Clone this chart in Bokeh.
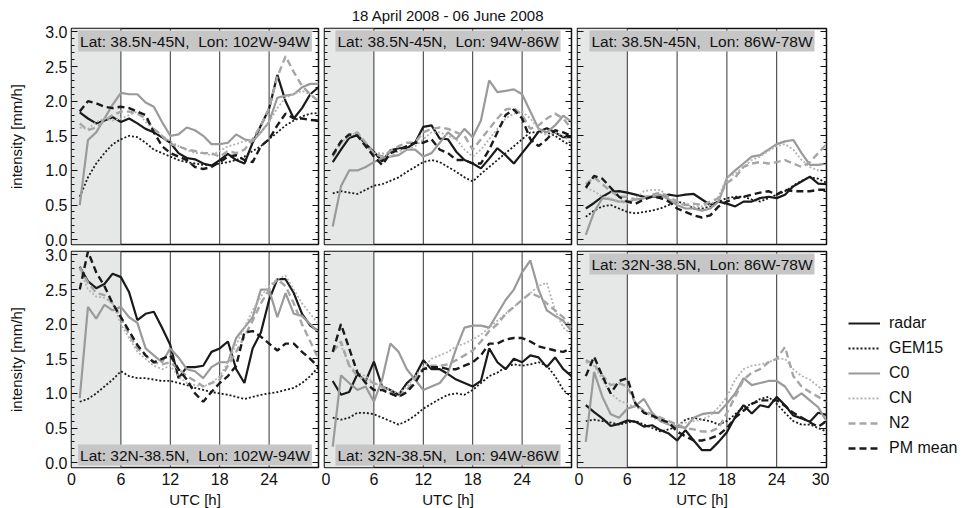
import numpy as np
from bokeh.plotting import figure
from bokeh.models import (Range1d, Span, BoxAnnotation, Label, Legend, LegendItem,
                          LinearAxis, SingleIntervalTicker, FixedTicker, NumeralTickFormatter)
from bokeh.layouts import row, column
from bokeh.embed import file_html
from bokeh.resources import INLINE

# ---------------- data ----------------
hours = list(range(1, 31))
x_ticks = [0, 6, 12, 18, 24, 30]
title_text = "18 April 2008 - 06 June 2008"
series_names = ["radar", "GEM15", "C0", "CN", "N2", "PM mean"]

S2 = ",\u00a0 Lon: "
region_nw = "Lat: 38.5N-45N" + S2 + "102W-94W"
region_nc = "Lat: 38.5N-45N" + S2 + "94W-86W"
region_ne = "Lat: 38.5N-45N" + S2 + "86W-78W"
region_sw = "Lat: 32N-38.5N" + S2 + "102W-94W"
region_sc = "Lat: 32N-38.5N" + S2 + "94W-86W"
region_se = "Lat: 32N-38.5N" + S2 + "86W-78W"

# north / west
radar_nw = [1.84,1.75,1.68,1.72,1.77,1.70,1.75,1.68,1.60,1.55,1.48,1.40,1.25,1.18,1.16,1.10,1.07,1.15,1.24,1.15,1.10,1.40,1.65,1.89,2.38,2.00,1.75,1.90,2.10,2.20]
gem_nw   = [0.62,0.90,1.10,1.25,1.38,1.45,1.50,1.48,1.40,1.30,1.25,1.20,1.15,1.12,1.10,1.08,1.08,1.10,1.12,1.15,1.20,1.28,1.35,1.45,1.55,1.65,1.72,1.78,1.82,1.83]
c0_nw    = [0.50,1.44,1.55,1.75,1.95,2.12,2.10,2.10,1.98,1.92,1.70,1.50,1.52,1.62,1.58,1.50,1.38,1.38,1.40,1.52,1.45,1.42,1.55,1.70,2.05,2.08,2.10,2.20,2.25,2.25]
cn_nw    = [1.62,1.60,1.70,1.75,1.72,1.75,1.80,1.85,1.70,1.60,1.50,1.42,1.35,1.30,1.25,1.25,1.22,1.28,1.35,1.38,1.42,1.45,1.55,1.70,1.90,2.05,2.10,2.15,2.10,2.00]
n2_nw    = [1.68,1.58,1.62,1.72,1.80,1.85,1.85,1.82,1.75,1.60,1.50,1.38,1.35,1.30,1.28,1.25,1.25,1.20,1.28,1.25,1.30,1.45,1.65,1.90,2.35,2.65,2.42,2.22,2.10,2.00]
pm_nw    = [1.85,2.00,1.97,1.92,1.90,1.92,1.90,1.85,1.80,1.55,1.35,1.25,1.20,1.15,1.05,1.02,1.05,1.12,1.20,1.22,1.15,1.12,1.35,1.45,1.65,1.82,1.75,1.75,1.73,1.72]

# north / central
radar_nc = [1.12,1.30,1.47,1.51,1.38,1.27,1.13,1.29,1.32,1.32,1.40,1.63,1.65,1.46,1.45,1.27,1.15,1.10,1.03,1.17,1.32,1.22,1.10,1.25,1.40,1.56,1.61,1.55,1.48,1.48]
gem_nc   = [0.67,0.70,0.68,0.66,0.72,0.78,0.80,0.85,0.90,0.98,1.05,1.12,1.15,1.12,1.05,0.98,0.90,0.84,0.95,1.05,1.15,1.25,1.35,1.45,1.55,1.55,1.55,1.50,1.42,1.35]
c0_nc    = [0.19,0.77,1.00,1.00,1.05,1.12,1.18,1.20,1.22,1.30,1.30,1.20,1.25,1.40,1.55,1.45,1.60,1.48,1.72,2.30,2.13,2.15,2.17,2.10,1.85,1.60,1.55,1.65,1.79,1.70]
cn_nc    = [1.25,1.40,1.50,1.55,1.35,1.25,1.25,1.20,1.28,1.30,1.35,1.45,1.55,1.55,1.50,1.45,1.30,1.20,1.30,1.45,1.60,1.75,1.82,1.85,1.75,1.60,1.50,1.55,1.50,1.40]
n2_nc    = [1.20,1.40,1.50,1.55,1.40,1.25,1.20,1.28,1.35,1.40,1.40,1.55,1.60,1.62,1.60,1.55,1.50,1.30,1.45,1.60,1.75,1.88,1.90,1.80,1.60,1.65,1.75,1.82,1.75,1.60]
pm_nc    = [1.22,1.42,1.52,1.50,1.35,1.20,1.08,1.25,1.30,1.35,1.40,1.40,1.45,1.30,1.25,1.15,1.15,1.10,1.10,1.30,1.55,1.80,1.88,1.75,1.45,1.35,1.45,1.58,1.55,1.50]

# north / east
radar_ne = [0.45,0.53,0.62,0.69,0.70,0.68,0.65,0.62,0.62,0.62,0.65,0.63,0.65,0.66,0.58,0.50,0.55,0.52,0.48,0.55,0.55,0.60,0.62,0.60,0.65,0.77,0.84,0.91,0.81,0.80]
gem_ne   = [0.33,0.42,0.48,0.50,0.45,0.40,0.38,0.40,0.42,0.45,0.50,0.55,0.52,0.45,0.45,0.48,0.55,0.60,0.62,0.62,0.58,0.55,0.60,0.65,0.70,0.78,0.85,0.90,0.88,0.82]
c0_ne    = [0.07,0.40,0.60,0.58,0.55,0.55,0.58,0.60,0.62,0.65,0.58,0.50,0.45,0.45,0.42,0.45,0.55,0.89,1.00,1.10,1.20,1.22,1.30,1.38,1.42,1.44,1.25,1.08,1.08,1.10]
cn_ne    = [0.75,0.70,0.62,0.60,0.55,0.52,0.60,0.70,0.72,0.72,0.60,0.52,0.50,0.48,0.48,0.50,0.62,0.90,0.95,1.05,1.15,1.20,1.28,1.35,1.38,1.30,1.15,1.05,1.00,1.00]
n2_ne    = [0.80,0.90,0.80,0.70,0.62,0.62,0.58,0.60,0.65,0.68,0.62,0.55,0.50,0.52,0.50,0.55,0.60,0.82,0.90,1.05,1.10,1.12,1.10,1.12,1.15,1.10,1.05,1.12,1.25,1.38]
pm_ne    = [0.75,0.92,0.88,0.75,0.62,0.55,0.52,0.58,0.62,0.60,0.55,0.45,0.40,0.35,0.32,0.35,0.48,0.55,0.60,0.62,0.65,0.68,0.70,0.65,0.72,0.70,0.70,0.70,0.72,0.72]

# south / west
radar_sw = [2.83,2.62,2.52,2.58,2.73,2.68,2.46,2.06,2.15,2.18,1.95,1.70,1.22,1.38,1.38,1.40,1.60,1.65,1.75,1.35,1.15,1.65,1.88,2.35,2.65,2.65,2.45,2.15,1.98,1.90]
gem_sw   = [0.88,0.92,1.00,1.10,1.20,1.32,1.25,1.22,1.22,1.20,1.18,1.18,1.15,1.12,1.08,1.05,1.02,1.00,0.98,0.95,0.92,0.95,0.98,1.00,1.02,1.05,1.08,1.15,1.25,1.38]
c0_sw    = [0.93,2.25,2.08,2.28,2.20,2.25,2.10,2.02,1.65,1.55,1.45,1.65,1.52,1.35,1.32,1.22,1.38,1.45,1.45,1.80,1.95,2.10,2.50,2.50,2.10,2.45,2.15,2.12,2.00,1.88]
cn_sw    = [2.80,2.50,2.40,2.38,2.30,2.00,1.80,1.60,1.50,1.40,1.35,1.40,1.25,1.15,1.12,1.10,1.15,1.25,1.45,1.70,1.95,2.20,2.40,2.55,2.65,2.70,2.50,2.30,2.15,2.00]
n2_sw    = [2.82,2.60,2.45,2.42,2.30,2.10,1.85,1.65,1.55,1.45,1.42,1.45,1.35,1.25,1.18,1.10,1.15,1.20,1.40,1.60,1.82,2.05,2.30,2.50,2.65,2.55,2.30,2.00,1.75,1.50]
pm_sw    = [2.50,3.05,2.75,2.55,2.30,2.10,1.90,1.70,1.55,1.45,1.50,1.55,1.35,1.20,1.00,0.88,1.02,1.15,1.25,1.40,1.88,1.90,1.82,1.72,1.62,1.72,1.72,1.60,1.50,1.38]

# south / central
radar_sc = [1.18,0.98,1.02,1.28,1.18,1.46,1.10,1.05,0.98,1.15,1.25,1.48,1.35,1.35,1.28,1.20,1.15,1.10,1.18,1.65,1.45,1.35,1.50,1.45,1.55,1.52,1.38,1.52,1.35,1.25]
gem_sc   = [0.65,0.62,0.65,0.72,0.72,0.70,0.65,0.60,0.55,0.60,0.68,0.78,0.85,0.92,0.98,1.00,0.98,1.05,1.15,1.25,1.30,1.38,1.42,1.40,1.42,1.45,1.40,1.25,1.05,0.95]
c0_sc    = [0.23,1.26,1.15,1.05,1.10,0.88,1.20,1.72,1.60,1.35,1.20,1.05,1.10,1.15,1.30,1.65,1.95,1.98,1.98,1.95,2.15,2.35,2.50,2.75,2.92,2.50,2.20,2.12,2.05,1.90]
cn_sc    = [1.65,1.70,1.40,1.30,1.25,1.15,1.10,1.05,1.00,1.10,1.25,1.38,1.50,1.55,1.60,1.68,1.72,1.78,1.85,1.95,2.05,2.15,2.25,2.35,2.45,2.55,2.60,2.20,1.95,1.85]
n2_sc    = [1.60,1.75,1.40,1.25,1.20,1.15,1.10,1.00,0.95,1.05,1.20,1.35,1.40,1.40,1.42,1.48,1.55,1.62,1.75,1.90,2.00,2.15,2.25,2.35,2.45,2.40,2.30,2.20,2.10,1.95]
pm_sc    = [1.60,2.00,1.65,1.30,1.15,1.05,1.05,1.00,0.95,1.02,1.15,1.35,1.38,1.38,1.35,1.35,1.40,1.45,1.55,1.72,1.72,1.78,1.80,1.80,1.75,1.68,1.65,1.62,1.60,1.65]

# south / east
radar_se = [0.83,0.73,0.64,0.53,0.56,0.61,0.59,0.52,0.54,0.47,0.42,0.32,0.47,0.32,0.18,0.18,0.30,0.44,0.66,0.83,0.71,0.83,0.80,0.95,0.83,0.68,0.64,0.59,0.72,0.69]
gem_se   = [0.60,0.62,0.60,0.58,0.55,0.58,0.60,0.55,0.50,0.45,0.48,0.52,0.62,0.65,0.62,0.60,0.55,0.60,0.70,0.80,0.85,0.92,0.95,0.85,0.72,0.60,0.55,0.55,0.50,0.45]
c0_se    = [0.30,1.31,0.95,0.70,0.65,0.78,0.82,0.92,0.72,0.60,0.55,0.52,0.50,0.65,0.70,0.72,0.72,0.85,1.00,1.22,1.12,1.15,1.18,1.18,1.10,0.92,1.00,0.90,0.80,0.60]
cn_se    = [1.45,1.40,1.20,1.00,0.90,0.85,0.80,0.75,0.65,0.60,0.55,0.55,0.58,0.60,0.62,0.68,0.80,0.95,1.20,1.35,1.40,1.42,1.45,1.50,1.50,1.35,1.25,1.20,1.10,1.00]
n2_se    = [1.48,1.42,1.26,1.12,1.15,1.10,0.85,0.75,0.70,0.65,0.60,0.55,0.50,0.48,0.45,0.45,0.50,0.72,0.95,1.20,1.30,1.35,1.45,1.50,1.67,1.25,1.10,1.02,0.95,0.88]
pm_se    = [1.25,1.53,1.25,1.00,1.18,1.22,0.85,0.72,0.68,0.62,0.58,0.45,0.38,0.32,0.32,0.35,0.40,0.50,0.65,0.75,0.85,0.90,0.90,0.90,0.82,0.72,0.65,0.58,0.52,0.60]

# ---------------- styling ----------------
FONT = "Liberation Sans"
INK = "#111111"
styles = {
    "radar":   dict(line_color="#1a1a1a", line_width=2.2, line_dash="solid"),
    "GEM15":   dict(line_color="#1a1a1a", line_width=1.8, line_dash="2 2"),
    "C0":      dict(line_color="#9a9a9a", line_width=2.2, line_dash="solid"),
    "CN":      dict(line_color="#b4b4b4", line_width=1.8, line_dash="2 2"),
    "N2":      dict(line_color="#a6a6a6", line_width=2.4, line_dash="7 4"),
    "PM mean": dict(line_color="#1a1a1a", line_width=2.4, line_dash="7 4"),
}

panels = [
    (0, 0, [radar_nw, gem_nw, c0_nw, cn_nw, n2_nw, pm_nw], region_nw, "top"),
    (0, 1, [radar_nc, gem_nc, c0_nc, cn_nc, n2_nc, pm_nc], region_nc, "top"),
    (0, 2, [radar_ne, gem_ne, c0_ne, cn_ne, n2_ne, pm_ne], region_ne, "top"),
    (1, 0, [radar_sw, gem_sw, c0_sw, cn_sw, n2_sw, pm_sw], region_sw, "bottom"),
    (1, 1, [radar_sc, gem_sc, c0_sc, cn_sc, n2_sc, pm_sc], region_sc, "bottom"),
    (1, 2, [radar_se, gem_se, c0_se, cn_se, n2_se, pm_se], region_se, "top"),
]

FH = 216
TOP_B, MID_B1, MID_B2, BOT_B = 27, 3, 4, 42
figs = {}
for (ri, ci, data, region, boxpos) in panels:
    fw = 247 if ci < 2 else 249
    p = figure(frame_width=fw, frame_height=FH,
               min_border_left=71 if ci == 0 else 3,
               min_border_right=3,
               min_border_top=TOP_B if ri == 0 else MID_B2,
               min_border_bottom=MID_B1 if ri == 0 else BOT_B,
               x_range=Range1d(0, 30), y_range=Range1d(-0.07, 3.05),
               x_axis_location=None if ri == 0 else "below",
               output_backend="svg", toolbar_location=None)
    p.grid.visible = False
    p.outline_line_color = INK
    p.outline_line_width = 1.5
    p.background_fill_color = "white"
    p.border_fill_color = "white"

    yax = p.yaxis[0]
    yax.ticker = SingleIntervalTicker(interval=0.5, num_minor_ticks=5)
    yax.formatter = NumeralTickFormatter(format="0.0")
    yax.major_tick_in = 6
    yax.major_tick_out = 0
    yax.minor_tick_in = 3
    yax.minor_tick_out = 0
    yax.axis_line_color = None
    yax.major_tick_line_color = INK
    yax.minor_tick_line_color = INK
    if ci == 0:
        yax.axis_label = "intensity [mm/h]"
        yax.axis_label_text_font = FONT
        yax.axis_label_text_font_size = "15px"
        yax.axis_label_text_font_style = "normal"
        yax.axis_label_text_color = INK
        yax.axis_label_standoff = 17
        yax.major_label_text_font = FONT
        yax.major_label_text_font_size = "16px"
        yax.major_label_standoff = 4
        yax.major_label_text_color = INK
    else:
        yax.major_label_text_font_size = "0px"
        yax.major_label_standoff = 0
    rax = LinearAxis(ticker=SingleIntervalTicker(interval=0.5, num_minor_ticks=5),
                     major_tick_in=6, major_tick_out=0, minor_tick_in=3, minor_tick_out=0,
                     axis_line_color=None, major_label_text_font_size="0px",
                     major_label_standoff=0,
                     major_tick_line_color=INK, minor_tick_line_color=INK)
    p.add_layout(rax, "right")

    if ri == 1:
        xax = p.xaxis[0]
        xax.ticker = FixedTicker(ticks=x_ticks if ci == 2 else x_ticks[:-1])
        xax.major_tick_in = 0
        xax.major_tick_out = 0
        xax.minor_tick_line_color = None
        xax.axis_line_color = None
        xax.major_label_text_font = FONT
        xax.major_label_text_font_size = "16px"
        xax.major_label_standoff = 5
        xax.major_label_text_color = INK
        xax.axis_label = "UTC [h]"
        xax.axis_label_text_font = FONT
        xax.axis_label_text_font_size = "15px"
        xax.axis_label_text_font_style = "normal"
        xax.axis_label_text_color = INK
        xax.axis_label_standoff = 3

    p.add_layout(BoxAnnotation(left=0, right=6, fill_color="#e6e7e7", fill_alpha=1.0,
                               line_color=None, level="underlay"))
    for xv in x_ticks[1:-1]:
        p.add_layout(Span(location=xv, dimension="height", line_color="#333333",
                          line_width=1, level="underlay"))

    for name, ys in zip(series_names, data):
        p.line(hours, ys, **styles[name])

    pad = 2
    if boxpos == "top":
        lab = Label(x=15, y=FH - pad, x_units="data", y_units="screen", text=region,
                    text_align="center", text_baseline="top")
    else:
        lab = Label(x=15, y=pad, x_units="data", y_units="screen", text=region,
                    text_align="center", text_baseline="bottom")
    lab.text_font = FONT
    lab.text_font_size = "15.5px"
    lab.text_color = INK
    lab.background_fill_color = "#c6c6c6"
    lab.background_fill_alpha = 1.0
    lab.padding = pad
    p.add_layout(lab)

    if ri == 0 and ci == 1:
        p.title.text = title_text
        p.title.align = "center"
        p.title.text_font = FONT
        p.title.text_font_size = "15px"
        p.title.text_font_style = "normal"
        p.title.text_color = INK
        p.title.standoff = 9

    figs[(ri, ci)] = p

# legend panel: same border structure as the other bottom-row figures
LW = 137
lf = figure(frame_width=LW, frame_height=FH,
            min_border_left=0, min_border_right=0,
            min_border_top=MID_B2, min_border_bottom=BOT_B,
            x_range=Range1d(0, 1), y_range=Range1d(0, 1),
            x_axis_location=None, y_axis_location=None,
            output_backend="svg", toolbar_location=None)
lf.grid.visible = False
lf.outline_line_color = None
lf.background_fill_color = "white"
lf.border_fill_color = "white"
nan2 = np.array([np.nan, np.nan])
leg_rends = [lf.line(nan2, nan2, **styles[n]) for n in series_names]
items = [LegendItem(label=n, renderers=[r]) for n, r in zip(series_names, leg_rends)]
leg = Legend(items=items, location=(19, 9), orientation="vertical",
             glyph_width=32, glyph_height=20, label_height=20, spacing=5,
             label_standoff=9, padding=0, margin=0,
             border_line_color=None, background_fill_alpha=0,
             label_text_font=FONT, label_text_font_size="16px",
             label_text_color=INK)
lf.add_layout(leg)

layout = column(row(figs[(0, 0)], figs[(0, 1)], figs[(0, 2)], spacing=0),
                row(figs[(1, 0)], figs[(1, 1)], figs[(1, 2)], lf, spacing=0),
                spacing=0)

open("out.html", "w").write(file_html(layout, INLINE))
